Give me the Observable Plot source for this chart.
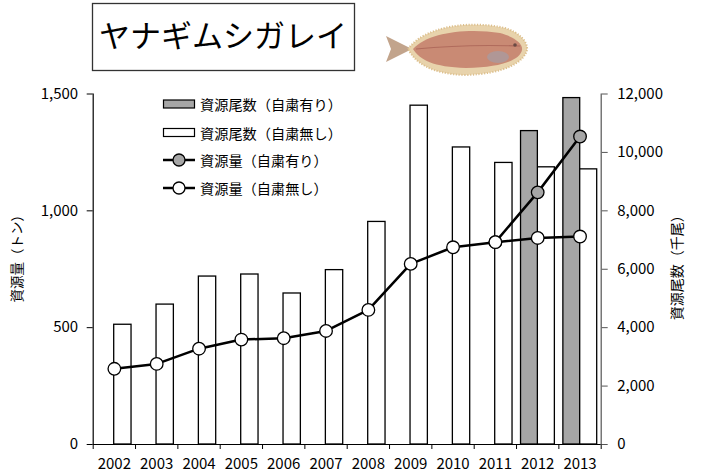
<!DOCTYPE html>
<html><head><meta charset="utf-8">
<script src="https://cdn.jsdelivr.net/npm/d3@7"></script>
<script src="https://cdn.jsdelivr.net/npm/@observablehq/plot@0.6"></script>
<style>
body{margin:0;background:#fff}
#wrap{position:relative;width:703px;height:476px;font-family:"Noto Sans CJK JP","Noto Sans",sans-serif}
#overlay{position:absolute;left:0;top:0;pointer-events:none}
</style>
</head><body>
<div id="wrap"></div>
<script>
// ---- data ----
const years = [2002, 2003, 2004, 2005, 2006, 2007, 2008, 2009, 2010, 2011, 2012, 2013];
// 資源尾数(自粛無し) 千尾
const countNoRestraint = [4100, 4790, 5750, 5820, 5170, 5970, 7620, 11600, 10170, 9640, 9490, 9420];
// 資源尾数(自粛有り) 千尾
const countRestraintYears = [2012, 2013];
const countRestraint = [10730, 11860];
// 資源量(自粛無し) トン
const biomassNoRestraint = [324, 345, 410, 449, 455, 486, 576, 773, 844, 866, 884, 890];
// 資源量(自粛有り) トン
const biomassRestraintYears = [2011, 2012, 2013];
const biomassRestraint = [866, 1079, 1318];

const leftTicks = [0, 500, 1000, 1500];
const rightTicks = [0, 2000, 4000, 6000, 8000, 10000, 12000];
const title = "ヤナギムシガレイ";
const leftLabel = "資源量（トン）";
const rightLabel = "資源尾数（千尾）";
const legendLabels = ["資源尾数（自粛有り）", "資源尾数（自粛無し）", "資源量（自粛有り）", "資源量（自粛無し）"];

// ---- tables ----
const ratio = 12000 / 1500;
const barsOpen = years.map((y, i) => ({year: y, value: countNoRestraint[i]}));
const barsGray = countRestraintYears.map((y, i) => ({year: y, value: countRestraint[i]}));
const lineOpen = years.map((y, i) => ({year: y, value: biomassNoRestraint[i]}));
const lineGray = biomassRestraintYears.map((y, i) => ({year: y, value: biomassRestraint[i]}));
const boundaries = years.map(y => y - 0.5).concat([years[years.length - 1] + 0.5]);
const fmt = d3.format(",");

const chart = Plot.plot({
  width: 703, height: 476,
  marginLeft: 92.7, marginRight: 102.3, marginTop: 93.5, marginBottom: 32,
  style: {fontFamily: '"Noto Sans CJK JP","Noto Sans",sans-serif', fontSize: "15px", color: "black", background: "white", overflow: "visible"},
  x: {type: "linear", domain: [2001.5, 2013.5], axis: null},
  y: {domain: [0, 1500], axis: null},
  marks: [
    Plot.rect(barsOpen, {x1: d => d.year - 0.5, x2: d => d.year + 0.5, y1: 0, y2: d => d.value / ratio,
      fill: "white", stroke: "black", strokeWidth: 1.3, insetLeft: 21, insetRight: 4}),
    Plot.rect(barsGray, {x1: d => d.year - 0.5, x2: d => d.year + 0.5, y1: 0, y2: d => d.value / ratio,
      fill: "#a6a6a6", stroke: "black", strokeWidth: 1.3, insetLeft: 4.5, insetRight: 21}),
    Plot.ruleX([2001.5], {stroke: "black", strokeWidth: 1.2}),
    Plot.ruleX([2013.5], {stroke: "#555", strokeWidth: 1.2}),
    Plot.ruleY([0], {stroke: "black", strokeWidth: 1.2}),
    Plot.axisY({anchor: "left", ticks: leftTicks, tickFormat: fmt, tickSize: 6, tickPadding: 9, label: null, fontSize: 15}),
    Plot.axisY({anchor: "right", ticks: rightTicks.map(v => v / ratio), tickFormat: d => fmt(Math.round(d * ratio)), tickSize: 6, tickPadding: 10, label: null, fontSize: 15, stroke: "#555"}),
    Plot.axisX({ticks: boundaries, tickFormat: () => "", tickSize: 5, label: null}),
    Plot.axisX({ticks: years, tickFormat: d => String(d), tickSize: 0, tickPadding: 14, label: null, fontSize: 15}),
    Plot.line(lineGray, {x: "year", y: "value", stroke: "black", strokeWidth: 2.5}),
    Plot.dot(lineGray, {x: "year", y: "value", r: 6.3, fill: "#a6a6a6", stroke: "black", strokeWidth: 1.3}),
    Plot.line(lineOpen, {x: "year", y: "value", stroke: "black", strokeWidth: 2.5}),
    Plot.dot(lineOpen, {x: "year", y: "value", r: 6.3, fill: "white", stroke: "black", strokeWidth: 1.3}),
    Plot.text([leftLabel], {frameAnchor: "left", textAnchor: "middle", dx: -76, dy: -14, rotate: -90, fontSize: 13.5}),
    Plot.text([rightLabel], {frameAnchor: "right", textAnchor: "middle", dx: 76, dy: -5, rotate: -90, fontSize: 14})
  ]
});
const wrap = document.getElementById("wrap");
wrap.appendChild(chart);

// ---- overlay: title box, fish, legend ----
const ov = d3.select(wrap).append("svg").attr("id", "overlay").attr("width", 703).attr("height", 476)
  .style("font-family", '"Noto Sans CJK JP","Noto Sans",sans-serif');

ov.append("rect").attr("x", 92.5).attr("y", 3.5).attr("width", 262).attr("height", 67)
  .attr("fill", "white").attr("stroke", "#333").attr("stroke-width", 1.3);
ov.append("text").attr("x", 223).attr("y", 33).attr("text-anchor", "middle").attr("dominant-baseline", "central")
  .attr("font-size", 31).attr("fill", "black").text(title);

// fish (decorative)
const fish = ov.append("g");
fish.append("path").attr("d", "M412,49 L386,36 L391,49 L386,62 Z").attr("fill", "#c2a48c");
fish.append("path").attr("d", "M408,49 C425,26 470,20 505,28 C520,33 528,42 527,50 C524,62 505,74 465,75 C430,74 415,62 408,49 Z")
  .attr("fill", "#e8d3ac").attr("stroke", "#dcbf8c").attr("stroke-width", 2).attr("stroke-dasharray", "1.2 1.6");
fish.append("path").attr("d", "M413,49 C428,32 468,28 500,33 C515,37 523,44 522,50 C520,59 505,67 466,68 C433,67 420,60 413,49 Z")
  .attr("fill", "#c98a74");
fish.append("path").attr("d", "M416,49 Q465,44 520,46").attr("fill", "none").attr("stroke", "#b06b5c").attr("stroke-width", 1.1);
fish.append("ellipse").attr("cx", 498).attr("cy", 57).attr("rx", 11).attr("ry", 6).attr("fill", "#9aa3b3").attr("opacity", 0.55);
fish.append("circle").attr("cx", 515).attr("cy", 45).attr("r", 1.8).attr("fill", "#6b4a44");

// legend
const rowsY = [104, 132.5, 160, 188];
ov.append("rect").attr("x", 163.5).attr("y", rowsY[0] - 4).attr("width", 31).attr("height", 8)
  .attr("fill", "#a6a6a6").attr("stroke", "black").attr("stroke-width", 1.2);
ov.append("rect").attr("x", 163.5).attr("y", rowsY[1] - 4).attr("width", 31).attr("height", 8)
  .attr("fill", "white").attr("stroke", "black").attr("stroke-width", 1.2);
[[rowsY[2], "#a6a6a6"], [rowsY[3], "white"]].forEach(([y, f]) => {
  ov.append("line").attr("x1", 163).attr("x2", 195).attr("y1", y).attr("y2", y).attr("stroke", "black").attr("stroke-width", 2.5);
  ov.append("circle").attr("cx", 179).attr("cy", y).attr("r", 6).attr("fill", f).attr("stroke", "black").attr("stroke-width", 1.3);
});
legendLabels.forEach((t, i) => {
  ov.append("text").attr("x", 200).attr("y", rowsY[i]).attr("dominant-baseline", "central")
    .attr("font-size", 14.2).attr("fill", "black").text(t);
});
</script>
</body></html>
